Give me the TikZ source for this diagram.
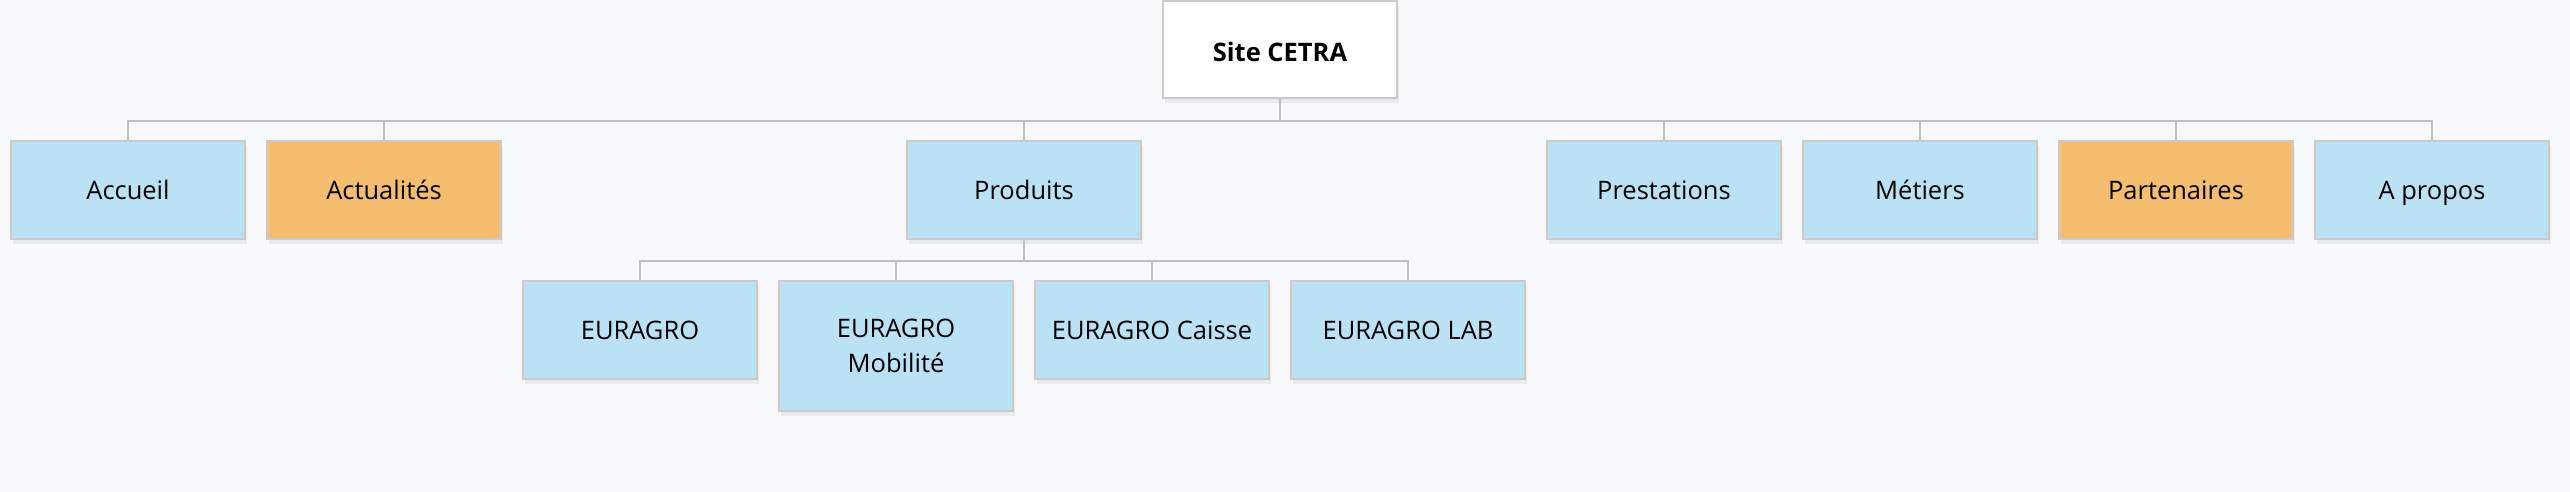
\documentclass[tikz,border=0pt]{standalone}
\usepackage{fontspec}
\setmainfont{Open Sans}
\usetikzlibrary{shadows}
\definecolor{bg}{RGB}{248,249,251}
\definecolor{boxblue}{RGB}{187,226,244}
\definecolor{boxorange}{RGB}{244,190,110}
\definecolor{boxborder}{RGB}{202,202,202}
\definecolor{linegray}{RGB}{192,192,192}
\tikzset{
  cardbase/.style={draw=boxborder, line width=1.2pt, minimum width=117pt, minimum height=49pt,
    inner sep=0pt, align=center, font=\fontsize{12.75pt}{17.5pt}\selectfont,
    drop shadow={opacity=0.06, shadow xshift=0.8pt, shadow yshift=-2.5pt, fill=black}},
  card/.style={cardbase, text height=12pt, text depth=3pt},
  bluecard/.style={card, fill=boxblue},
  orangecard/.style={card, fill=boxorange},
  twoline/.style={cardbase, fill=boxblue},
  rootcard/.style={cardbase, text height=12pt, text depth=0pt, fill=white, font=\fontsize{12.75pt}{17.5pt}\selectfont\bfseries},
  conn/.style={draw=linegray, line width=1pt}
}
\begin{document}
\begin{tikzpicture}[x=0.5pt, y=-0.5pt]
\fill[bg] (0,0) rectangle (2570,492);
\useasboundingbox (0,0) rectangle (2570,492);
\coordinate (bus1) at (0,121);
\coordinate (bus2) at (0,261);
% root
\node[rootcard, minimum height=48.5pt] (root) at (1280,49.5) {Site CETRA};
% level 1
\node[bluecard] (accueil) at (128,190) {Accueil};
\node[orangecard] (actu) at (384,190) {Actualités};
\node[bluecard] (produits) at (1024,190) {Produits};
\node[bluecard] (prest) at (1664,190) {Prestations};
\node[bluecard] (metiers) at (1920,190) {Métiers};
\node[orangecard] (part) at (2176,190) {Partenaires};
\node[bluecard] (apropos) at (2432,190) {A propos};
% level 2
\node[bluecard] (eur) at (640,330) {EURAGRO};
\node[twoline, minimum height=65pt] (mob) at (896,346) {EURAGRO\\Mobilité};
\node[bluecard] (caisse) at (1152,330) {EURAGRO Caisse};
\node[bluecard] (lab) at (1408,330) {EURAGRO LAB};
% connectors level 1
\draw[conn] (root.south) -- (root.south |- bus1);
\draw[conn] (accueil.north) -- (accueil.north |- bus1) -- (apropos.north |- bus1) -- (apropos.north);
\foreach \n in {actu,produits,prest,metiers,part}
  \draw[conn] (\n.north) -- (\n.north |- bus1);
% connectors level 2
\draw[conn] (produits.south) -- (produits.south |- bus2);
\draw[conn] (eur.north) -- (eur.north |- bus2) -- (lab.north |- bus2) -- (lab.north);
\foreach \n in {mob,caisse}
  \draw[conn] (\n.north) -- (\n.north |- bus2);
\end{tikzpicture}
\end{document}
